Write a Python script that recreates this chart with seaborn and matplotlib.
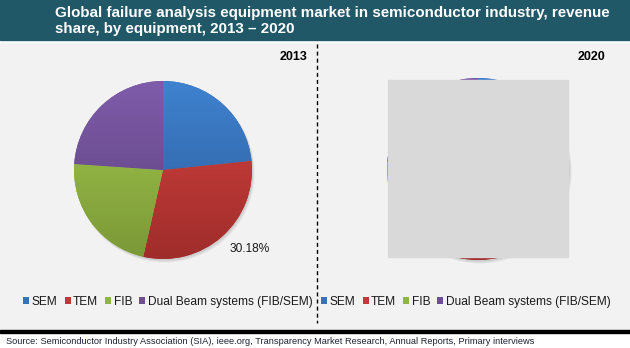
import numpy as np
import matplotlib
matplotlib.use("Agg")
import matplotlib.pyplot as plt
import seaborn as sns
from matplotlib.colors import LinearSegmentedColormap
from matplotlib.patches import Rectangle, Circle, Patch

# Revenue share by equipment (%)
equipment = ["SEM", "TEM", "FIB", "Dual Beam systems (FIB/SEM)"]
share_2013 = [23.38, 30.18, 22.52, 23.92]
share_2020 = [22.1, 31.6, 22.6, 23.7]
years = ["2013", "2020"]

title_lines = [
    "Global failure analysis equipment market in semiconductor industry, revenue",
    "share, by equipment, 2013 \u2013 2020",
]
source = ("Source: Semiconductor Industry Association (SIA), ieee.org, Transparency Market "
          "Research, Annual Reports, Primary interviews")

W, H = 630, 348
sns.set_theme(style="white")
plt.rcParams["font.family"] = ["Liberation Sans", "DejaVu Sans"]

base = sns.color_palette(["#3a70b8", "#c0393a", "#8fb544", "#6e4f97"])
tops = ["#3f82cf", "#d6433f", "#a4ca4e", "#7f5caa"]
bottoms = ["#2b5a98", "#9f2d2b", "#7a9837", "#5a3f7a"]

fig = plt.figure(figsize=(W / 100, H / 100), dpi=100)
fig.patch.set_facecolor("white")
ax = fig.add_axes([0, 0, 1, 1])
ax.set_axis_off()


def py(y):
    """Convert a top-down pixel row into data y."""
    return H - y


# Header band, panel background and footer rule
ax.add_patch(Rectangle((0, py(40)), W, 40, color="#215868", zorder=1))
ax.add_patch(Rectangle((0, py(330)), W, 330 - 42.5, color="#f2f2f2", zorder=1))
ax.add_patch(Rectangle((0, py(333)), W, 3, color="black", zorder=1))

for i, line in enumerate(title_lines):
    ax.text(55, py(17.5 + 16 * i), line, color="white", fontweight="bold",
            fontsize=10.9, va="baseline", ha="left", zorder=5)

# Divider between the two years
ax.plot([317, 317], [py(44), py(323)], color="black", lw=1,
        dashes=(2.9, 2.2), zorder=2)

centers = [(163, 170), (478, 169)]
radii = [89, 91]
for share, (cx, cy), r in zip([share_2013, share_2020], centers, radii):
    cyd = py(cy)
    # soft drop shadow
    for k in range(3):
        ax.add_patch(Circle((cx + 1.0 + 0.5 * k, cyd - 1.5 - 0.7 * k), r + 0.3 * k,
                            color="black", alpha=0.05, lw=0, zorder=2))
    wedges, _ = ax.pie(share, colors=base, startangle=90, counterclock=False,
                       radius=r, center=(cx, cyd), frame=True,
                       wedgeprops=dict(linewidth=0, zorder=3))
    grad = np.linspace(0, 1, 256)[:, None]
    for w, top, bot in zip(wedges, tops, bottoms):
        cmap = LinearSegmentedColormap.from_list("g", [top, bot])
        im = ax.imshow(grad, cmap=cmap, extent=(cx - r, cx + r, cyd - r, cyd + r),
                       origin="upper", interpolation="bilinear", zorder=3.5,
                       aspect="auto")
        im.set_clip_path(w)

# Value label for TEM, 2013
ax.text(250, py(249), f"{share_2013[1]:.2f}%", fontsize=8.6, color="#1a1a1a",
        ha="center", va="center", zorder=5)

# Placeholder box over the 2020 pie
ax.add_patch(Rectangle((388, py(257)), 180, 177, color="#d9d9d9", zorder=6))

# Year labels
ax.text(308, py(57), years[0], fontweight="bold", fontsize=9, ha="right",
        va="center", color="black", zorder=5)
ax.text(605, py(57), years[1], fontweight="bold", fontsize=9, ha="right",
        va="center", color="black", zorder=5)

handles = [Patch(facecolor=c, edgecolor="none") for c in base]
for xc in (168, 466):
    leg = fig.legend(handles, equipment, loc="center",
                     bbox_to_anchor=(xc / W, 1 - 302 / H), ncol=4, frameon=False,
                     fontsize=8.6, handlelength=0.5, handleheight=0.5,
                     handletextpad=0.2, columnspacing=0.6, borderpad=0,
                     borderaxespad=0)
    for t in leg.get_texts():
        t.set_color("#1a1a1a")

ax.text(6, py(344), source, fontsize=6.7, color="#1f2436", va="baseline",
        ha="left", zorder=5)

ax.set_xlim(0, W)
ax.set_ylim(0, H)
ax.set_aspect("auto")
fig.savefig("out.png", dpi=100, facecolor=fig.get_facecolor())
